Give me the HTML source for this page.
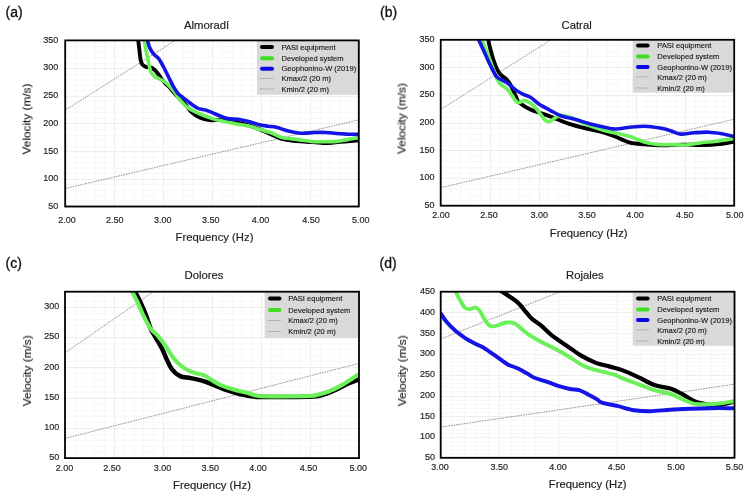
<!DOCTYPE html><html><head><meta charset="utf-8"><style>html,body{margin:0;padding:0;background:#fff;}svg{display:block;} text{will-change:transform;}</style></head><body>
<svg width="747" height="496" viewBox="0 0 747 496" font-family='"Liberation Sans", sans-serif'>
<rect width="747" height="496" fill="#fff"/>
<defs><clipPath id="clipa"><rect x="65.2" y="40.4" width="293.6" height="166.1"/></clipPath></defs>
<g><line x1="65.5" y1="40.4" x2="65.5" y2="206.5" stroke="#ededed" stroke-width="1"/><line x1="75.5" y1="40.4" x2="75.5" y2="206.5" stroke="#f8f8f8" stroke-width="1"/><line x1="85.5" y1="40.4" x2="85.5" y2="206.5" stroke="#f8f8f8" stroke-width="1"/><line x1="95.5" y1="40.4" x2="95.5" y2="206.5" stroke="#f8f8f8" stroke-width="1"/><line x1="104.5" y1="40.4" x2="104.5" y2="206.5" stroke="#f8f8f8" stroke-width="1"/><line x1="114.5" y1="40.4" x2="114.5" y2="206.5" stroke="#ededed" stroke-width="1"/><line x1="124.5" y1="40.4" x2="124.5" y2="206.5" stroke="#f8f8f8" stroke-width="1"/><line x1="134.5" y1="40.4" x2="134.5" y2="206.5" stroke="#f8f8f8" stroke-width="1"/><line x1="143.5" y1="40.4" x2="143.5" y2="206.5" stroke="#f8f8f8" stroke-width="1"/><line x1="153.5" y1="40.4" x2="153.5" y2="206.5" stroke="#f8f8f8" stroke-width="1"/><line x1="163.5" y1="40.4" x2="163.5" y2="206.5" stroke="#ededed" stroke-width="1"/><line x1="173.5" y1="40.4" x2="173.5" y2="206.5" stroke="#f8f8f8" stroke-width="1"/><line x1="183.5" y1="40.4" x2="183.5" y2="206.5" stroke="#f8f8f8" stroke-width="1"/><line x1="192.5" y1="40.4" x2="192.5" y2="206.5" stroke="#f8f8f8" stroke-width="1"/><line x1="202.5" y1="40.4" x2="202.5" y2="206.5" stroke="#f8f8f8" stroke-width="1"/><line x1="212.5" y1="40.4" x2="212.5" y2="206.5" stroke="#ededed" stroke-width="1"/><line x1="222.5" y1="40.4" x2="222.5" y2="206.5" stroke="#f8f8f8" stroke-width="1"/><line x1="232.5" y1="40.4" x2="232.5" y2="206.5" stroke="#f8f8f8" stroke-width="1"/><line x1="241.5" y1="40.4" x2="241.5" y2="206.5" stroke="#f8f8f8" stroke-width="1"/><line x1="251.5" y1="40.4" x2="251.5" y2="206.5" stroke="#f8f8f8" stroke-width="1"/><line x1="261.5" y1="40.4" x2="261.5" y2="206.5" stroke="#ededed" stroke-width="1"/><line x1="271.5" y1="40.4" x2="271.5" y2="206.5" stroke="#f8f8f8" stroke-width="1"/><line x1="281.5" y1="40.4" x2="281.5" y2="206.5" stroke="#f8f8f8" stroke-width="1"/><line x1="290.5" y1="40.4" x2="290.5" y2="206.5" stroke="#f8f8f8" stroke-width="1"/><line x1="300.5" y1="40.4" x2="300.5" y2="206.5" stroke="#f8f8f8" stroke-width="1"/><line x1="310.5" y1="40.4" x2="310.5" y2="206.5" stroke="#ededed" stroke-width="1"/><line x1="320.5" y1="40.4" x2="320.5" y2="206.5" stroke="#f8f8f8" stroke-width="1"/><line x1="329.5" y1="40.4" x2="329.5" y2="206.5" stroke="#f8f8f8" stroke-width="1"/><line x1="339.5" y1="40.4" x2="339.5" y2="206.5" stroke="#f8f8f8" stroke-width="1"/><line x1="349.5" y1="40.4" x2="349.5" y2="206.5" stroke="#f8f8f8" stroke-width="1"/><line x1="359.5" y1="40.4" x2="359.5" y2="206.5" stroke="#ededed" stroke-width="1"/><line x1="65.2" y1="207.5" x2="358.8" y2="207.5" stroke="#ededed" stroke-width="1"/><line x1="65.2" y1="201.5" x2="358.8" y2="201.5" stroke="#f8f8f8" stroke-width="1"/><line x1="65.2" y1="195.5" x2="358.8" y2="195.5" stroke="#f8f8f8" stroke-width="1"/><line x1="65.2" y1="190.5" x2="358.8" y2="190.5" stroke="#f8f8f8" stroke-width="1"/><line x1="65.2" y1="184.5" x2="358.8" y2="184.5" stroke="#f8f8f8" stroke-width="1"/><line x1="65.2" y1="179.5" x2="358.8" y2="179.5" stroke="#ededed" stroke-width="1"/><line x1="65.2" y1="173.5" x2="358.8" y2="173.5" stroke="#f8f8f8" stroke-width="1"/><line x1="65.2" y1="168.5" x2="358.8" y2="168.5" stroke="#f8f8f8" stroke-width="1"/><line x1="65.2" y1="162.5" x2="358.8" y2="162.5" stroke="#f8f8f8" stroke-width="1"/><line x1="65.2" y1="157.5" x2="358.8" y2="157.5" stroke="#f8f8f8" stroke-width="1"/><line x1="65.2" y1="151.5" x2="358.8" y2="151.5" stroke="#ededed" stroke-width="1"/><line x1="65.2" y1="146.5" x2="358.8" y2="146.5" stroke="#f8f8f8" stroke-width="1"/><line x1="65.2" y1="140.5" x2="358.8" y2="140.5" stroke="#f8f8f8" stroke-width="1"/><line x1="65.2" y1="135.5" x2="358.8" y2="135.5" stroke="#f8f8f8" stroke-width="1"/><line x1="65.2" y1="129.5" x2="358.8" y2="129.5" stroke="#f8f8f8" stroke-width="1"/><line x1="65.2" y1="123.5" x2="358.8" y2="123.5" stroke="#ededed" stroke-width="1"/><line x1="65.2" y1="118.5" x2="358.8" y2="118.5" stroke="#f8f8f8" stroke-width="1"/><line x1="65.2" y1="112.5" x2="358.8" y2="112.5" stroke="#f8f8f8" stroke-width="1"/><line x1="65.2" y1="107.5" x2="358.8" y2="107.5" stroke="#f8f8f8" stroke-width="1"/><line x1="65.2" y1="101.5" x2="358.8" y2="101.5" stroke="#f8f8f8" stroke-width="1"/><line x1="65.2" y1="96.5" x2="358.8" y2="96.5" stroke="#ededed" stroke-width="1"/><line x1="65.2" y1="90.5" x2="358.8" y2="90.5" stroke="#f8f8f8" stroke-width="1"/><line x1="65.2" y1="85.5" x2="358.8" y2="85.5" stroke="#f8f8f8" stroke-width="1"/><line x1="65.2" y1="79.5" x2="358.8" y2="79.5" stroke="#f8f8f8" stroke-width="1"/><line x1="65.2" y1="74.5" x2="358.8" y2="74.5" stroke="#f8f8f8" stroke-width="1"/><line x1="65.2" y1="68.5" x2="358.8" y2="68.5" stroke="#ededed" stroke-width="1"/><line x1="65.2" y1="63.5" x2="358.8" y2="63.5" stroke="#f8f8f8" stroke-width="1"/><line x1="65.2" y1="57.5" x2="358.8" y2="57.5" stroke="#f8f8f8" stroke-width="1"/><line x1="65.2" y1="51.5" x2="358.8" y2="51.5" stroke="#f8f8f8" stroke-width="1"/><line x1="65.2" y1="46.5" x2="358.8" y2="46.5" stroke="#f8f8f8" stroke-width="1"/><line x1="65.2" y1="40.5" x2="358.8" y2="40.5" stroke="#ededed" stroke-width="1"/></g>
<rect x="257.0" y="41.0" width="101.0" height="53.8" fill="#d9d9d9"/>
<g clip-path="url(#clipa)">
<line x1="65.2" y1="110.2" x2="358.8" y2="-75.9" stroke="#777" stroke-width="0.8" stroke-dasharray="1.6,1.0"/>
<line x1="65.2" y1="188.5" x2="358.8" y2="119.9" stroke="#777" stroke-width="0.8" stroke-dasharray="1.6,1.0"/>
<path d="M137.9,38.0 C138.2,40.0 139.0,46.5 139.4,50.1 C139.8,53.7 140.1,57.4 140.6,59.8 C141.1,62.2 141.5,63.4 142.4,64.6 C143.3,65.8 144.7,66.4 146.0,66.9 C147.3,67.4 149.1,67.2 150.3,67.5 C151.5,67.8 152.1,68.0 153.0,68.6 C153.9,69.2 155.0,70.1 156.0,71.2 C157.0,72.3 158.0,73.8 159.0,75.2 C160.0,76.6 160.9,78.2 162.0,79.6 C163.1,81.0 164.2,82.3 165.5,83.6 C166.8,84.9 167.8,85.4 169.5,87.3 C171.2,89.2 173.4,92.2 176.0,95.0 C178.6,97.8 182.6,101.4 185.1,104.2 C187.6,107.0 188.7,109.5 191.2,111.8 C193.7,114.1 197.3,116.4 200.3,117.8 C203.3,119.2 205.8,119.7 209.3,120.1 C212.8,120.5 217.4,119.8 221.4,120.1 C225.4,120.3 228.9,120.7 233.5,121.6 C238.1,122.5 244.3,124.1 248.7,125.4 C253.1,126.7 256.3,127.9 260.0,129.4 C263.7,130.9 267.2,132.6 270.9,134.2 C274.5,135.8 278.2,137.9 281.9,139.0 C285.5,140.1 288.7,140.2 292.8,140.7 C296.9,141.1 301.4,141.3 306.4,141.7 C311.4,142.1 318.2,142.8 322.8,143.0 C327.4,143.2 329.7,142.9 333.8,142.6 C337.9,142.3 343.3,141.7 347.4,141.3 C351.5,140.9 356.6,140.5 358.4,140.3" fill="none" stroke="#000000" stroke-width="3.90" stroke-linecap="round" stroke-linejoin="round"/>
<path d="M144.0,38.0 C144.3,40.0 145.2,46.1 146.0,50.1 C146.8,54.1 147.7,58.6 148.5,62.2 C149.3,65.8 149.8,69.5 150.9,71.9 C152.0,74.3 153.6,75.5 155.1,76.7 C156.6,77.9 158.2,78.2 160.0,79.2 C161.8,80.2 164.2,81.4 166.0,82.8 C167.8,84.2 169.2,85.8 170.8,87.6 C172.4,89.4 174.3,91.8 175.7,93.7 C177.1,95.6 177.1,96.6 179.2,99.0 C181.3,101.4 184.7,105.5 188.2,108.0 C191.7,110.5 196.3,112.2 200.3,114.0 C204.3,115.8 208.4,117.3 212.4,118.6 C216.4,119.9 220.5,120.7 224.5,121.6 C228.5,122.5 232.6,123.2 236.6,123.9 C240.6,124.7 244.7,125.1 248.7,126.1 C252.7,127.0 256.8,128.5 260.5,129.6 C264.2,130.7 267.3,131.5 270.9,132.8 C274.5,134.1 278.2,136.6 281.9,137.6 C285.5,138.6 289.2,138.4 292.8,138.9 C296.4,139.4 300.1,139.8 303.7,140.3 C307.3,140.8 311.0,141.5 314.6,141.7 C318.2,141.9 322.0,141.8 325.6,141.7 C329.2,141.6 332.9,141.8 336.5,141.4 C340.1,141.1 343.8,140.2 347.4,139.6 C351.0,139.0 356.6,137.9 358.4,137.6" fill="none" stroke="#6cf05a" stroke-width="3.60" stroke-linecap="round" stroke-linejoin="round"/>
<path d="M146.9,38.0 C147.4,39.6 148.5,45.0 149.7,47.7 C150.9,50.4 152.4,52.5 153.9,54.3 C155.4,56.1 157.1,56.5 158.7,58.6 C160.3,60.7 162.0,64.0 163.6,67.0 C165.2,70.0 166.8,73.5 168.4,76.7 C170.0,79.9 171.7,83.6 173.3,86.4 C174.9,89.2 176.5,91.8 178.1,93.7 C179.7,95.6 181.6,96.5 183.0,97.6 C184.4,98.7 184.2,98.7 186.6,100.4 C189.0,102.1 193.9,106.3 197.2,108.0 C200.5,109.7 203.3,109.3 206.3,110.3 C209.3,111.3 211.9,112.6 215.4,114.0 C218.9,115.4 223.7,117.7 227.5,118.6 C231.3,119.5 234.6,118.8 238.1,119.3 C241.6,119.8 245.0,120.6 248.7,121.6 C252.4,122.5 257.2,124.2 260.5,125.0 C263.8,125.8 265.6,125.8 268.2,126.2 C270.8,126.6 273.2,126.5 276.4,127.3 C279.6,128.0 283.2,129.7 287.3,130.7 C291.4,131.7 296.4,132.9 301.0,133.2 C305.6,133.5 310.5,132.6 314.6,132.5 C318.7,132.4 322.0,132.3 325.6,132.5 C329.2,132.7 332.9,133.2 336.5,133.5 C340.1,133.8 343.8,134.0 347.4,134.2 C351.0,134.3 356.6,134.4 358.4,134.4" fill="none" stroke="#1414e6" stroke-width="3.60" stroke-linecap="round" stroke-linejoin="round"/>
</g>
<line x1="262.0" y1="47.0" x2="272.0" y2="47.0" stroke="#000000" stroke-width="4" stroke-linecap="round"/>
<text transform="translate(281.50,49.72) scale(1.000,1)" font-size="7.55" fill="#141414" stroke="#141414" stroke-width="0.12">PASI equipment</text>
<line x1="262.0" y1="58.2" x2="272.0" y2="58.2" stroke="#3ee01e" stroke-width="4" stroke-linecap="round"/>
<text transform="translate(281.50,60.92) scale(1.000,1)" font-size="7.55" fill="#141414" stroke="#141414" stroke-width="0.12">Developed system</text>
<line x1="262.0" y1="68.7" x2="272.0" y2="68.7" stroke="#0a0ae6" stroke-width="4" stroke-linecap="round"/>
<text transform="translate(281.50,71.42) scale(1.000,1)" font-size="7.55" fill="#141414" stroke="#141414" stroke-width="0.12">Geophonino-W (2019)</text>
<line x1="260.0" y1="78.5" x2="274.0" y2="78.5" stroke="#8a8a8a" stroke-width="0.8" stroke-dasharray="1.3,0.9"/>
<text transform="translate(281.50,81.22) scale(1.000,1)" font-size="7.55" fill="#141414" stroke="#141414" stroke-width="0.12">Kmax/2 (20 m)</text>
<line x1="260.0" y1="89.0" x2="274.0" y2="89.0" stroke="#8a8a8a" stroke-width="0.8" stroke-dasharray="1.3,0.9"/>
<text transform="translate(281.50,91.72) scale(1.000,1)" font-size="7.55" fill="#141414" stroke="#141414" stroke-width="0.12">Kmin/2 (20 m)</text>
<rect x="65.2" y="40.4" width="293.6" height="166.1" fill="none" stroke="#000" stroke-width="1.8"/>
<text transform="translate(58.30,208.86) scale(0.910,1)" font-size="9.90" fill="#262626" text-anchor="end" stroke="#262626" stroke-width="0.20">50</text>
<text transform="translate(58.30,181.18) scale(0.910,1)" font-size="9.90" fill="#262626" text-anchor="end" stroke="#262626" stroke-width="0.20">100</text>
<text transform="translate(58.30,153.50) scale(0.910,1)" font-size="9.90" fill="#262626" text-anchor="end" stroke="#262626" stroke-width="0.20">150</text>
<text transform="translate(58.30,125.81) scale(0.910,1)" font-size="9.90" fill="#262626" text-anchor="end" stroke="#262626" stroke-width="0.20">200</text>
<text transform="translate(58.30,98.13) scale(0.910,1)" font-size="9.90" fill="#262626" text-anchor="end" stroke="#262626" stroke-width="0.20">250</text>
<text transform="translate(58.30,70.45) scale(0.910,1)" font-size="9.90" fill="#262626" text-anchor="end" stroke="#262626" stroke-width="0.20">300</text>
<text transform="translate(58.30,42.76) scale(0.910,1)" font-size="9.90" fill="#262626" text-anchor="end" stroke="#262626" stroke-width="0.20">350</text>
<text transform="translate(67.00,222.76) scale(0.910,1)" font-size="9.90" fill="#262626" text-anchor="middle" stroke="#262626" stroke-width="0.20">2.00</text>
<text transform="translate(114.80,222.76) scale(0.910,1)" font-size="9.90" fill="#262626" text-anchor="middle" stroke="#262626" stroke-width="0.20">2.50</text>
<text transform="translate(162.70,222.76) scale(0.910,1)" font-size="9.90" fill="#262626" text-anchor="middle" stroke="#262626" stroke-width="0.20">3.00</text>
<text transform="translate(210.80,222.76) scale(0.910,1)" font-size="9.90" fill="#262626" text-anchor="middle" stroke="#262626" stroke-width="0.20">3.50</text>
<text transform="translate(260.50,222.76) scale(0.910,1)" font-size="9.90" fill="#262626" text-anchor="middle" stroke="#262626" stroke-width="0.20">4.00</text>
<text transform="translate(311.00,222.76) scale(0.910,1)" font-size="9.90" fill="#262626" text-anchor="middle" stroke="#262626" stroke-width="0.20">4.50</text>
<text transform="translate(360.70,222.76) scale(0.910,1)" font-size="9.90" fill="#262626" text-anchor="middle" stroke="#262626" stroke-width="0.20">5.00</text>
<text transform="translate(5.50,16.60) scale(1.000,1)" font-size="14.00" fill="#111" stroke="#111" stroke-width="0.30">(a)</text>
<text transform="translate(206.60,28.50) scale(1.000,1)" font-size="11.30" fill="#222" text-anchor="middle" stroke="#222" stroke-width="0.18">Almoradí</text>
<text transform="translate(214.50,240.70) scale(1.000,1)" font-size="11.30" fill="#222" text-anchor="middle" stroke="#222" stroke-width="0.18">Frequency (Hz)</text>
<text transform="translate(30.50,119.00) rotate(-90) scale(1.000,1)" font-size="11.80" fill="#222" text-anchor="middle" stroke="#222" stroke-width="0.18">Velocity (m/s)</text>
<defs><clipPath id="clipb"><rect x="440.7" y="39.8" width="293.5" height="165.9"/></clipPath></defs>
<g><line x1="441.5" y1="39.8" x2="441.5" y2="205.7" stroke="#ededed" stroke-width="1"/><line x1="450.5" y1="39.8" x2="450.5" y2="205.7" stroke="#f8f8f8" stroke-width="1"/><line x1="460.5" y1="39.8" x2="460.5" y2="205.7" stroke="#f8f8f8" stroke-width="1"/><line x1="470.5" y1="39.8" x2="470.5" y2="205.7" stroke="#f8f8f8" stroke-width="1"/><line x1="480.5" y1="39.8" x2="480.5" y2="205.7" stroke="#f8f8f8" stroke-width="1"/><line x1="490.5" y1="39.8" x2="490.5" y2="205.7" stroke="#ededed" stroke-width="1"/><line x1="499.5" y1="39.8" x2="499.5" y2="205.7" stroke="#f8f8f8" stroke-width="1"/><line x1="509.5" y1="39.8" x2="509.5" y2="205.7" stroke="#f8f8f8" stroke-width="1"/><line x1="519.5" y1="39.8" x2="519.5" y2="205.7" stroke="#f8f8f8" stroke-width="1"/><line x1="529.5" y1="39.8" x2="529.5" y2="205.7" stroke="#f8f8f8" stroke-width="1"/><line x1="539.5" y1="39.8" x2="539.5" y2="205.7" stroke="#ededed" stroke-width="1"/><line x1="548.5" y1="39.8" x2="548.5" y2="205.7" stroke="#f8f8f8" stroke-width="1"/><line x1="558.5" y1="39.8" x2="558.5" y2="205.7" stroke="#f8f8f8" stroke-width="1"/><line x1="568.5" y1="39.8" x2="568.5" y2="205.7" stroke="#f8f8f8" stroke-width="1"/><line x1="578.5" y1="39.8" x2="578.5" y2="205.7" stroke="#f8f8f8" stroke-width="1"/><line x1="587.5" y1="39.8" x2="587.5" y2="205.7" stroke="#ededed" stroke-width="1"/><line x1="597.5" y1="39.8" x2="597.5" y2="205.7" stroke="#f8f8f8" stroke-width="1"/><line x1="607.5" y1="39.8" x2="607.5" y2="205.7" stroke="#f8f8f8" stroke-width="1"/><line x1="617.5" y1="39.8" x2="617.5" y2="205.7" stroke="#f8f8f8" stroke-width="1"/><line x1="627.5" y1="39.8" x2="627.5" y2="205.7" stroke="#f8f8f8" stroke-width="1"/><line x1="636.5" y1="39.8" x2="636.5" y2="205.7" stroke="#ededed" stroke-width="1"/><line x1="646.5" y1="39.8" x2="646.5" y2="205.7" stroke="#f8f8f8" stroke-width="1"/><line x1="656.5" y1="39.8" x2="656.5" y2="205.7" stroke="#f8f8f8" stroke-width="1"/><line x1="666.5" y1="39.8" x2="666.5" y2="205.7" stroke="#f8f8f8" stroke-width="1"/><line x1="676.5" y1="39.8" x2="676.5" y2="205.7" stroke="#f8f8f8" stroke-width="1"/><line x1="685.5" y1="39.8" x2="685.5" y2="205.7" stroke="#ededed" stroke-width="1"/><line x1="695.5" y1="39.8" x2="695.5" y2="205.7" stroke="#f8f8f8" stroke-width="1"/><line x1="705.5" y1="39.8" x2="705.5" y2="205.7" stroke="#f8f8f8" stroke-width="1"/><line x1="715.5" y1="39.8" x2="715.5" y2="205.7" stroke="#f8f8f8" stroke-width="1"/><line x1="724.5" y1="39.8" x2="724.5" y2="205.7" stroke="#f8f8f8" stroke-width="1"/><line x1="734.5" y1="39.8" x2="734.5" y2="205.7" stroke="#ededed" stroke-width="1"/><line x1="440.7" y1="206.5" x2="734.2" y2="206.5" stroke="#ededed" stroke-width="1"/><line x1="440.7" y1="200.5" x2="734.2" y2="200.5" stroke="#f8f8f8" stroke-width="1"/><line x1="440.7" y1="195.5" x2="734.2" y2="195.5" stroke="#f8f8f8" stroke-width="1"/><line x1="440.7" y1="189.5" x2="734.2" y2="189.5" stroke="#f8f8f8" stroke-width="1"/><line x1="440.7" y1="184.5" x2="734.2" y2="184.5" stroke="#f8f8f8" stroke-width="1"/><line x1="440.7" y1="178.5" x2="734.2" y2="178.5" stroke="#ededed" stroke-width="1"/><line x1="440.7" y1="173.5" x2="734.2" y2="173.5" stroke="#f8f8f8" stroke-width="1"/><line x1="440.7" y1="167.5" x2="734.2" y2="167.5" stroke="#f8f8f8" stroke-width="1"/><line x1="440.7" y1="161.5" x2="734.2" y2="161.5" stroke="#f8f8f8" stroke-width="1"/><line x1="440.7" y1="156.5" x2="734.2" y2="156.5" stroke="#f8f8f8" stroke-width="1"/><line x1="440.7" y1="150.5" x2="734.2" y2="150.5" stroke="#ededed" stroke-width="1"/><line x1="440.7" y1="145.5" x2="734.2" y2="145.5" stroke="#f8f8f8" stroke-width="1"/><line x1="440.7" y1="139.5" x2="734.2" y2="139.5" stroke="#f8f8f8" stroke-width="1"/><line x1="440.7" y1="134.5" x2="734.2" y2="134.5" stroke="#f8f8f8" stroke-width="1"/><line x1="440.7" y1="128.5" x2="734.2" y2="128.5" stroke="#f8f8f8" stroke-width="1"/><line x1="440.7" y1="123.5" x2="734.2" y2="123.5" stroke="#ededed" stroke-width="1"/><line x1="440.7" y1="117.5" x2="734.2" y2="117.5" stroke="#f8f8f8" stroke-width="1"/><line x1="440.7" y1="112.5" x2="734.2" y2="112.5" stroke="#f8f8f8" stroke-width="1"/><line x1="440.7" y1="106.5" x2="734.2" y2="106.5" stroke="#f8f8f8" stroke-width="1"/><line x1="440.7" y1="101.5" x2="734.2" y2="101.5" stroke="#f8f8f8" stroke-width="1"/><line x1="440.7" y1="95.5" x2="734.2" y2="95.5" stroke="#ededed" stroke-width="1"/><line x1="440.7" y1="90.5" x2="734.2" y2="90.5" stroke="#f8f8f8" stroke-width="1"/><line x1="440.7" y1="84.5" x2="734.2" y2="84.5" stroke="#f8f8f8" stroke-width="1"/><line x1="440.7" y1="79.5" x2="734.2" y2="79.5" stroke="#f8f8f8" stroke-width="1"/><line x1="440.7" y1="73.5" x2="734.2" y2="73.5" stroke="#f8f8f8" stroke-width="1"/><line x1="440.7" y1="67.5" x2="734.2" y2="67.5" stroke="#ededed" stroke-width="1"/><line x1="440.7" y1="62.5" x2="734.2" y2="62.5" stroke="#f8f8f8" stroke-width="1"/><line x1="440.7" y1="56.5" x2="734.2" y2="56.5" stroke="#f8f8f8" stroke-width="1"/><line x1="440.7" y1="51.5" x2="734.2" y2="51.5" stroke="#f8f8f8" stroke-width="1"/><line x1="440.7" y1="45.5" x2="734.2" y2="45.5" stroke="#f8f8f8" stroke-width="1"/><line x1="440.7" y1="40.5" x2="734.2" y2="40.5" stroke="#ededed" stroke-width="1"/></g>
<rect x="632.7" y="40.5" width="101.0" height="52.2" fill="#d9d9d9"/>
<g clip-path="url(#clipb)">
<line x1="440.7" y1="109.5" x2="734.2" y2="-76.3" stroke="#777" stroke-width="0.8" stroke-dasharray="1.6,1.0"/>
<line x1="440.7" y1="187.7" x2="734.2" y2="119.2" stroke="#777" stroke-width="0.8" stroke-dasharray="1.6,1.0"/>
<path d="M487.9,38.0 C488.2,39.6 489.1,44.3 490.0,47.7 C490.9,51.1 491.9,55.2 493.0,58.6 C494.1,62.0 495.4,65.7 496.6,68.3 C497.8,70.9 498.7,72.5 500.3,74.3 C501.9,76.1 504.7,77.6 506.3,79.2 C507.9,80.8 508.8,82.0 510.0,84.0 C511.2,86.0 512.5,89.0 513.6,91.3 C514.7,93.6 515.7,96.1 516.6,98.0 C517.5,99.9 516.8,100.7 519.1,102.6 C521.4,104.5 526.4,107.7 530.4,109.6 C534.4,111.5 539.1,112.5 543.1,113.9 C547.1,115.3 550.2,116.5 554.4,118.1 C558.6,119.7 563.6,122.0 568.5,123.7 C573.4,125.4 579.3,126.8 584.0,128.0 C588.7,129.2 593.2,130.0 596.7,130.8 C600.2,131.6 602.0,132.0 605.0,132.9 C608.0,133.8 610.8,134.9 615.0,136.5 C619.2,138.1 625.0,141.4 630.0,142.7 C635.0,144.0 640.0,143.9 645.0,144.4 C650.0,144.9 653.8,145.4 660.0,145.4 C666.2,145.4 675.6,144.7 682.5,144.6 C689.4,144.5 695.0,145.1 701.2,145.0 C707.5,144.9 714.5,144.6 720.0,144.0 C725.5,143.4 731.7,142.0 734.0,141.6" fill="none" stroke="#000000" stroke-width="3.90" stroke-linecap="round" stroke-linejoin="round"/>
<path d="M480.9,38.0 C481.9,40.4 485.0,47.5 487.0,52.5 C489.0,57.5 491.4,64.0 493.0,68.3 C494.6,72.5 495.4,75.4 496.6,78.0 C497.8,80.6 498.7,82.3 500.3,84.0 C501.9,85.7 504.2,86.3 506.0,88.0 C507.8,89.7 509.1,91.6 511.0,94.0 C513.0,96.4 515.4,101.5 517.7,102.6 C520.0,103.7 522.1,100.0 524.7,100.5 C527.3,101.0 530.6,103.2 533.2,105.4 C535.8,107.6 538.5,111.6 540.3,113.9 C542.1,116.2 543.0,118.0 544.2,119.3 C545.4,120.6 546.5,121.3 547.6,121.6 C548.7,121.8 549.8,121.4 551.0,120.8 C552.2,120.2 553.1,119.1 554.8,118.2 C556.5,117.3 558.4,115.3 561.4,115.3 C564.4,115.3 568.9,116.7 572.7,118.1 C576.5,119.5 580.0,122.0 584.0,123.7 C588.0,125.4 593.2,126.8 596.7,128.0 C600.2,129.2 602.0,130.0 605.0,130.8 C608.0,131.6 610.8,131.9 615.0,132.8 C619.2,133.8 625.0,134.9 630.0,136.5 C635.0,138.1 640.0,140.8 645.0,142.2 C650.0,143.5 655.0,144.2 660.0,144.6 C665.0,145.0 670.6,144.5 675.0,144.6 C679.4,144.7 681.8,145.3 686.2,145.0 C690.6,144.7 696.2,143.3 701.2,142.7 C706.2,142.1 710.7,141.9 716.2,141.2 C721.7,140.5 731.0,138.9 734.0,138.4" fill="none" stroke="#6cf05a" stroke-width="3.60" stroke-linecap="round" stroke-linejoin="round"/>
<path d="M477.9,38.0 C479.0,40.4 482.4,47.9 484.5,52.5 C486.6,57.1 488.6,61.8 490.6,65.8 C492.6,69.8 494.6,74.3 496.6,76.7 C498.6,79.1 500.7,79.2 502.7,80.4 C504.7,81.6 506.5,82.4 508.7,84.0 C510.9,85.6 513.6,88.4 516.0,90.1 C518.4,91.8 520.9,93.1 523.3,94.3 C525.7,95.5 527.9,95.7 530.5,97.3 C533.1,98.9 535.6,101.8 538.9,104.0 C542.2,106.2 546.4,108.3 550.1,110.3 C553.9,112.3 557.2,114.5 561.4,116.0 C565.6,117.5 570.8,118.2 575.5,119.5 C580.2,120.8 585.5,122.6 589.6,123.7 C593.7,124.8 595.8,125.3 600.0,126.2 C604.2,127.1 610.0,128.8 615.0,129.0 C620.0,129.2 625.0,127.7 630.0,127.2 C635.0,126.7 640.0,126.1 645.0,126.2 C650.0,126.3 655.6,127.3 660.0,128.1 C664.4,128.9 667.8,129.9 671.2,130.9 C674.6,131.9 676.9,133.8 680.6,134.1 C684.4,134.4 689.0,133.1 693.7,132.8 C698.4,132.5 704.0,132.0 708.7,132.2 C713.4,132.3 717.6,133.0 721.8,133.7 C726.0,134.4 732.0,136.0 734.0,136.5" fill="none" stroke="#1414e6" stroke-width="3.60" stroke-linecap="round" stroke-linejoin="round"/>
</g>
<line x1="638.0" y1="45.5" x2="647.6" y2="45.5" stroke="#000000" stroke-width="4" stroke-linecap="round"/>
<text transform="translate(657.30,48.22) scale(1.000,1)" font-size="7.55" fill="#141414" stroke="#141414" stroke-width="0.12">PASI equipment</text>
<line x1="638.0" y1="56.5" x2="647.6" y2="56.5" stroke="#3ee01e" stroke-width="4" stroke-linecap="round"/>
<text transform="translate(657.30,59.22) scale(1.000,1)" font-size="7.55" fill="#141414" stroke="#141414" stroke-width="0.12">Developed system</text>
<line x1="638.0" y1="67.0" x2="647.6" y2="67.0" stroke="#0a0ae6" stroke-width="4" stroke-linecap="round"/>
<text transform="translate(657.30,69.72) scale(1.000,1)" font-size="7.55" fill="#141414" stroke="#141414" stroke-width="0.12">Geophonino-W (2019)</text>
<line x1="636.0" y1="76.8" x2="649.6" y2="76.8" stroke="#8a8a8a" stroke-width="0.8" stroke-dasharray="1.3,0.9"/>
<text transform="translate(657.30,79.52) scale(1.000,1)" font-size="7.55" fill="#141414" stroke="#141414" stroke-width="0.12">Kmax/2 (20 m)</text>
<line x1="636.0" y1="88.0" x2="649.6" y2="88.0" stroke="#8a8a8a" stroke-width="0.8" stroke-dasharray="1.3,0.9"/>
<text transform="translate(657.30,90.72) scale(1.000,1)" font-size="7.55" fill="#141414" stroke="#141414" stroke-width="0.12">Kmin/2 (20 m)</text>
<rect x="440.7" y="39.8" width="293.5" height="165.9" fill="none" stroke="#000" stroke-width="1.8"/>
<text transform="translate(434.60,208.06) scale(0.910,1)" font-size="9.90" fill="#262626" text-anchor="end" stroke="#262626" stroke-width="0.20">50</text>
<text transform="translate(434.60,180.41) scale(0.910,1)" font-size="9.90" fill="#262626" text-anchor="end" stroke="#262626" stroke-width="0.20">100</text>
<text transform="translate(434.60,152.76) scale(0.910,1)" font-size="9.90" fill="#262626" text-anchor="end" stroke="#262626" stroke-width="0.20">150</text>
<text transform="translate(434.60,125.11) scale(0.910,1)" font-size="9.90" fill="#262626" text-anchor="end" stroke="#262626" stroke-width="0.20">200</text>
<text transform="translate(434.60,97.46) scale(0.910,1)" font-size="9.90" fill="#262626" text-anchor="end" stroke="#262626" stroke-width="0.20">250</text>
<text transform="translate(434.60,69.81) scale(0.910,1)" font-size="9.90" fill="#262626" text-anchor="end" stroke="#262626" stroke-width="0.20">300</text>
<text transform="translate(434.60,42.16) scale(0.910,1)" font-size="9.90" fill="#262626" text-anchor="end" stroke="#262626" stroke-width="0.20">350</text>
<text transform="translate(441.10,218.36) scale(0.910,1)" font-size="9.90" fill="#262626" text-anchor="middle" stroke="#262626" stroke-width="0.20">2.00</text>
<text transform="translate(489.00,218.36) scale(0.910,1)" font-size="9.90" fill="#262626" text-anchor="middle" stroke="#262626" stroke-width="0.20">2.50</text>
<text transform="translate(539.20,218.36) scale(0.910,1)" font-size="9.90" fill="#262626" text-anchor="middle" stroke="#262626" stroke-width="0.20">3.00</text>
<text transform="translate(587.00,218.36) scale(0.910,1)" font-size="9.90" fill="#262626" text-anchor="middle" stroke="#262626" stroke-width="0.20">3.50</text>
<text transform="translate(635.00,218.36) scale(0.910,1)" font-size="9.90" fill="#262626" text-anchor="middle" stroke="#262626" stroke-width="0.20">4.00</text>
<text transform="translate(684.70,218.36) scale(0.910,1)" font-size="9.90" fill="#262626" text-anchor="middle" stroke="#262626" stroke-width="0.20">4.50</text>
<text transform="translate(734.80,218.36) scale(0.910,1)" font-size="9.90" fill="#262626" text-anchor="middle" stroke="#262626" stroke-width="0.20">5.00</text>
<text transform="translate(380.00,16.60) scale(1.000,1)" font-size="14.00" fill="#111" stroke="#111" stroke-width="0.30">(b)</text>
<text transform="translate(576.60,28.50) scale(1.000,1)" font-size="11.30" fill="#222" text-anchor="middle" stroke="#222" stroke-width="0.18">Catral</text>
<text transform="translate(588.70,236.70) scale(1.000,1)" font-size="11.30" fill="#222" text-anchor="middle" stroke="#222" stroke-width="0.18">Frequency (Hz)</text>
<text transform="translate(405.50,118.50) rotate(-90) scale(1.000,1)" font-size="11.80" fill="#222" text-anchor="middle" stroke="#222" stroke-width="0.18">Velocity (m/s)</text>
<defs><clipPath id="clipc"><rect x="65.0" y="291.7" width="294.0" height="166.4"/></clipPath></defs>
<g><line x1="65.5" y1="291.7" x2="65.5" y2="458.1" stroke="#ededed" stroke-width="1"/><line x1="75.5" y1="291.7" x2="75.5" y2="458.1" stroke="#f8f8f8" stroke-width="1"/><line x1="85.5" y1="291.7" x2="85.5" y2="458.1" stroke="#f8f8f8" stroke-width="1"/><line x1="94.5" y1="291.7" x2="94.5" y2="458.1" stroke="#f8f8f8" stroke-width="1"/><line x1="104.5" y1="291.7" x2="104.5" y2="458.1" stroke="#f8f8f8" stroke-width="1"/><line x1="114.5" y1="291.7" x2="114.5" y2="458.1" stroke="#ededed" stroke-width="1"/><line x1="124.5" y1="291.7" x2="124.5" y2="458.1" stroke="#f8f8f8" stroke-width="1"/><line x1="134.5" y1="291.7" x2="134.5" y2="458.1" stroke="#f8f8f8" stroke-width="1"/><line x1="143.5" y1="291.7" x2="143.5" y2="458.1" stroke="#f8f8f8" stroke-width="1"/><line x1="153.5" y1="291.7" x2="153.5" y2="458.1" stroke="#f8f8f8" stroke-width="1"/><line x1="163.5" y1="291.7" x2="163.5" y2="458.1" stroke="#ededed" stroke-width="1"/><line x1="173.5" y1="291.7" x2="173.5" y2="458.1" stroke="#f8f8f8" stroke-width="1"/><line x1="183.5" y1="291.7" x2="183.5" y2="458.1" stroke="#f8f8f8" stroke-width="1"/><line x1="192.5" y1="291.7" x2="192.5" y2="458.1" stroke="#f8f8f8" stroke-width="1"/><line x1="202.5" y1="291.7" x2="202.5" y2="458.1" stroke="#f8f8f8" stroke-width="1"/><line x1="212.5" y1="291.7" x2="212.5" y2="458.1" stroke="#ededed" stroke-width="1"/><line x1="222.5" y1="291.7" x2="222.5" y2="458.1" stroke="#f8f8f8" stroke-width="1"/><line x1="232.5" y1="291.7" x2="232.5" y2="458.1" stroke="#f8f8f8" stroke-width="1"/><line x1="241.5" y1="291.7" x2="241.5" y2="458.1" stroke="#f8f8f8" stroke-width="1"/><line x1="251.5" y1="291.7" x2="251.5" y2="458.1" stroke="#f8f8f8" stroke-width="1"/><line x1="261.5" y1="291.7" x2="261.5" y2="458.1" stroke="#ededed" stroke-width="1"/><line x1="271.5" y1="291.7" x2="271.5" y2="458.1" stroke="#f8f8f8" stroke-width="1"/><line x1="281.5" y1="291.7" x2="281.5" y2="458.1" stroke="#f8f8f8" stroke-width="1"/><line x1="290.5" y1="291.7" x2="290.5" y2="458.1" stroke="#f8f8f8" stroke-width="1"/><line x1="300.5" y1="291.7" x2="300.5" y2="458.1" stroke="#f8f8f8" stroke-width="1"/><line x1="310.5" y1="291.7" x2="310.5" y2="458.1" stroke="#ededed" stroke-width="1"/><line x1="320.5" y1="291.7" x2="320.5" y2="458.1" stroke="#f8f8f8" stroke-width="1"/><line x1="330.5" y1="291.7" x2="330.5" y2="458.1" stroke="#f8f8f8" stroke-width="1"/><line x1="339.5" y1="291.7" x2="339.5" y2="458.1" stroke="#f8f8f8" stroke-width="1"/><line x1="349.5" y1="291.7" x2="349.5" y2="458.1" stroke="#f8f8f8" stroke-width="1"/><line x1="359.5" y1="291.7" x2="359.5" y2="458.1" stroke="#ededed" stroke-width="1"/><line x1="65.0" y1="458.5" x2="359.0" y2="458.5" stroke="#ededed" stroke-width="1"/><line x1="65.0" y1="452.5" x2="359.0" y2="452.5" stroke="#f8f8f8" stroke-width="1"/><line x1="65.0" y1="446.5" x2="359.0" y2="446.5" stroke="#f8f8f8" stroke-width="1"/><line x1="65.0" y1="440.5" x2="359.0" y2="440.5" stroke="#f8f8f8" stroke-width="1"/><line x1="65.0" y1="434.5" x2="359.0" y2="434.5" stroke="#f8f8f8" stroke-width="1"/><line x1="65.0" y1="428.5" x2="359.0" y2="428.5" stroke="#ededed" stroke-width="1"/><line x1="65.0" y1="422.5" x2="359.0" y2="422.5" stroke="#f8f8f8" stroke-width="1"/><line x1="65.0" y1="416.5" x2="359.0" y2="416.5" stroke="#f8f8f8" stroke-width="1"/><line x1="65.0" y1="410.5" x2="359.0" y2="410.5" stroke="#f8f8f8" stroke-width="1"/><line x1="65.0" y1="404.5" x2="359.0" y2="404.5" stroke="#f8f8f8" stroke-width="1"/><line x1="65.0" y1="398.5" x2="359.0" y2="398.5" stroke="#ededed" stroke-width="1"/><line x1="65.0" y1="392.5" x2="359.0" y2="392.5" stroke="#f8f8f8" stroke-width="1"/><line x1="65.0" y1="386.5" x2="359.0" y2="386.5" stroke="#f8f8f8" stroke-width="1"/><line x1="65.0" y1="379.5" x2="359.0" y2="379.5" stroke="#f8f8f8" stroke-width="1"/><line x1="65.0" y1="373.5" x2="359.0" y2="373.5" stroke="#f8f8f8" stroke-width="1"/><line x1="65.0" y1="367.5" x2="359.0" y2="367.5" stroke="#ededed" stroke-width="1"/><line x1="65.0" y1="361.5" x2="359.0" y2="361.5" stroke="#f8f8f8" stroke-width="1"/><line x1="65.0" y1="355.5" x2="359.0" y2="355.5" stroke="#f8f8f8" stroke-width="1"/><line x1="65.0" y1="349.5" x2="359.0" y2="349.5" stroke="#f8f8f8" stroke-width="1"/><line x1="65.0" y1="343.5" x2="359.0" y2="343.5" stroke="#f8f8f8" stroke-width="1"/><line x1="65.0" y1="337.5" x2="359.0" y2="337.5" stroke="#ededed" stroke-width="1"/><line x1="65.0" y1="331.5" x2="359.0" y2="331.5" stroke="#f8f8f8" stroke-width="1"/><line x1="65.0" y1="325.5" x2="359.0" y2="325.5" stroke="#f8f8f8" stroke-width="1"/><line x1="65.0" y1="319.5" x2="359.0" y2="319.5" stroke="#f8f8f8" stroke-width="1"/><line x1="65.0" y1="313.5" x2="359.0" y2="313.5" stroke="#f8f8f8" stroke-width="1"/><line x1="65.0" y1="307.5" x2="359.0" y2="307.5" stroke="#ededed" stroke-width="1"/><line x1="65.0" y1="301.5" x2="359.0" y2="301.5" stroke="#f8f8f8" stroke-width="1"/><line x1="65.0" y1="295.5" x2="359.0" y2="295.5" stroke="#f8f8f8" stroke-width="1"/></g>
<rect x="264.6" y="292.0" width="93.4" height="46.2" fill="#d9d9d9"/>
<g clip-path="url(#clipc)">
<line x1="65.0" y1="352.8" x2="359.0" y2="149.6" stroke="#777" stroke-width="0.8" stroke-dasharray="1.6,1.0"/>
<line x1="65.0" y1="438.4" x2="359.0" y2="363.4" stroke="#777" stroke-width="0.8" stroke-dasharray="1.6,1.0"/>
<path d="M134.2,290.0 C135.2,292.1 138.6,298.5 140.5,302.5 C142.4,306.5 143.9,309.8 145.6,314.1 C147.3,318.5 148.8,324.5 150.6,328.6 C152.4,332.7 154.5,335.4 156.4,338.8 C158.3,342.2 160.5,345.6 162.2,349.0 C163.9,352.4 165.1,356.0 166.7,359.4 C168.3,362.8 169.8,366.6 172.0,369.4 C174.2,372.2 177.0,374.7 180.1,376.1 C183.2,377.6 187.0,377.3 190.8,378.1 C194.6,378.9 199.0,379.7 202.8,380.8 C206.6,381.9 209.5,383.2 213.5,384.8 C217.5,386.4 222.4,388.6 226.9,390.2 C231.4,391.8 235.8,393.1 240.3,394.2 C244.8,395.3 247.1,396.1 253.7,396.6 C260.3,397.1 270.1,397.0 280.0,397.0 C289.9,397.0 305.5,397.1 313.0,396.6 C320.5,396.1 321.0,395.4 325.0,394.2 C329.0,393.0 333.0,391.0 337.0,389.2 C341.0,387.4 345.4,384.8 349.0,383.2 C352.6,381.6 357.1,380.1 358.7,379.5" fill="none" stroke="#000000" stroke-width="4.50" stroke-linecap="round" stroke-linejoin="round"/>
<path d="M131.2,290.0 C132.3,292.1 135.6,298.2 137.6,302.5 C139.6,306.8 141.2,311.2 143.4,315.6 C145.6,320.0 148.2,325.2 150.6,328.6 C153.0,332.0 155.2,332.8 157.9,335.9 C160.6,339.0 164.0,343.8 166.6,347.5 C169.2,351.2 170.9,354.9 173.4,358.0 C175.9,361.1 178.3,363.8 181.4,366.1 C184.5,368.5 188.3,370.6 192.1,372.1 C195.9,373.7 201.1,374.2 204.2,375.4 C207.3,376.6 208.2,377.9 210.9,379.5 C213.6,381.1 216.4,383.1 220.2,384.8 C224.0,386.5 229.1,388.2 233.6,389.5 C238.1,390.8 242.8,391.7 247.0,392.8 C251.2,393.9 253.5,395.4 259.0,396.0 C264.5,396.6 271.5,396.3 280.0,396.3 C288.5,396.3 303.8,396.2 310.0,396.0 C316.2,395.8 314.5,395.5 317.5,394.8 C320.5,394.1 324.2,393.2 328.0,391.8 C331.8,390.4 336.0,388.4 340.0,386.2 C344.0,384.0 348.9,380.7 352.0,378.7 C355.1,376.7 357.6,374.9 358.7,374.2" fill="none" stroke="#6cf05a" stroke-width="4.20" stroke-linecap="round" stroke-linejoin="round"/>
</g>
<line x1="270.0" y1="298.4" x2="279.5" y2="298.4" stroke="#000000" stroke-width="4" stroke-linecap="round"/>
<text transform="translate(288.30,301.12) scale(1.000,1)" font-size="7.55" fill="#141414" stroke="#141414" stroke-width="0.12">PASI equipment</text>
<line x1="270.0" y1="309.9" x2="279.5" y2="309.9" stroke="#3ee01e" stroke-width="4" stroke-linecap="round"/>
<text transform="translate(288.30,312.62) scale(1.000,1)" font-size="7.55" fill="#141414" stroke="#141414" stroke-width="0.12">Developed system</text>
<line x1="268.0" y1="320.5" x2="281.5" y2="320.5" stroke="#8a8a8a" stroke-width="0.8" stroke-dasharray="1.3,0.9"/>
<text transform="translate(288.30,323.22) scale(1.000,1)" font-size="7.55" fill="#141414" stroke="#141414" stroke-width="0.12">Kmax/2 (20 m)</text>
<line x1="268.0" y1="331.5" x2="281.5" y2="331.5" stroke="#8a8a8a" stroke-width="0.8" stroke-dasharray="1.3,0.9"/>
<text transform="translate(288.30,334.22) scale(1.000,1)" font-size="7.55" fill="#141414" stroke="#141414" stroke-width="0.12">Kmin/2 (20 m)</text>
<rect x="65.0" y="291.7" width="294.0" height="166.4" fill="none" stroke="#000" stroke-width="1.8"/>
<text transform="translate(59.20,460.46) scale(0.910,1)" font-size="9.90" fill="#262626" text-anchor="end" stroke="#262626" stroke-width="0.20">50</text>
<text transform="translate(59.20,430.21) scale(0.910,1)" font-size="9.90" fill="#262626" text-anchor="end" stroke="#262626" stroke-width="0.20">100</text>
<text transform="translate(59.20,399.96) scale(0.910,1)" font-size="9.90" fill="#262626" text-anchor="end" stroke="#262626" stroke-width="0.20">150</text>
<text transform="translate(59.20,369.71) scale(0.910,1)" font-size="9.90" fill="#262626" text-anchor="end" stroke="#262626" stroke-width="0.20">200</text>
<text transform="translate(59.20,339.46) scale(0.910,1)" font-size="9.90" fill="#262626" text-anchor="end" stroke="#262626" stroke-width="0.20">250</text>
<text transform="translate(59.20,309.21) scale(0.910,1)" font-size="9.90" fill="#262626" text-anchor="end" stroke="#262626" stroke-width="0.20">300</text>
<text transform="translate(64.60,470.56) scale(0.910,1)" font-size="9.90" fill="#262626" text-anchor="middle" stroke="#262626" stroke-width="0.20">2.00</text>
<text transform="translate(112.00,470.56) scale(0.910,1)" font-size="9.90" fill="#262626" text-anchor="middle" stroke="#262626" stroke-width="0.20">2.50</text>
<text transform="translate(162.50,470.56) scale(0.910,1)" font-size="9.90" fill="#262626" text-anchor="middle" stroke="#262626" stroke-width="0.20">3.00</text>
<text transform="translate(210.30,470.56) scale(0.910,1)" font-size="9.90" fill="#262626" text-anchor="middle" stroke="#262626" stroke-width="0.20">3.50</text>
<text transform="translate(258.00,470.56) scale(0.910,1)" font-size="9.90" fill="#262626" text-anchor="middle" stroke="#262626" stroke-width="0.20">4.00</text>
<text transform="translate(308.50,470.56) scale(0.910,1)" font-size="9.90" fill="#262626" text-anchor="middle" stroke="#262626" stroke-width="0.20">4.50</text>
<text transform="translate(358.30,470.56) scale(0.910,1)" font-size="9.90" fill="#262626" text-anchor="middle" stroke="#262626" stroke-width="0.20">5.00</text>
<text transform="translate(5.60,268.30) scale(1.000,1)" font-size="14.00" fill="#111" stroke="#111" stroke-width="0.30">(c)</text>
<text transform="translate(204.00,278.80) scale(1.000,1)" font-size="11.30" fill="#222" text-anchor="middle" stroke="#222" stroke-width="0.18">Dolores</text>
<text transform="translate(212.00,488.70) scale(1.000,1)" font-size="11.30" fill="#222" text-anchor="middle" stroke="#222" stroke-width="0.18">Frequency (Hz)</text>
<text transform="translate(31.00,370.70) rotate(-90) scale(1.000,1)" font-size="11.80" fill="#222" text-anchor="middle" stroke="#222" stroke-width="0.18">Velocity (m/s)</text>
<defs><clipPath id="clipd"><rect x="440.7" y="291.7" width="293.8" height="166.1"/></clipPath></defs>
<g><line x1="441.5" y1="291.7" x2="441.5" y2="457.8" stroke="#ededed" stroke-width="1"/><line x1="452.5" y1="291.7" x2="452.5" y2="457.8" stroke="#f8f8f8" stroke-width="1"/><line x1="464.5" y1="291.7" x2="464.5" y2="457.8" stroke="#f8f8f8" stroke-width="1"/><line x1="476.5" y1="291.7" x2="476.5" y2="457.8" stroke="#f8f8f8" stroke-width="1"/><line x1="488.5" y1="291.7" x2="488.5" y2="457.8" stroke="#f8f8f8" stroke-width="1"/><line x1="499.5" y1="291.7" x2="499.5" y2="457.8" stroke="#ededed" stroke-width="1"/><line x1="511.5" y1="291.7" x2="511.5" y2="457.8" stroke="#f8f8f8" stroke-width="1"/><line x1="523.5" y1="291.7" x2="523.5" y2="457.8" stroke="#f8f8f8" stroke-width="1"/><line x1="535.5" y1="291.7" x2="535.5" y2="457.8" stroke="#f8f8f8" stroke-width="1"/><line x1="546.5" y1="291.7" x2="546.5" y2="457.8" stroke="#f8f8f8" stroke-width="1"/><line x1="558.5" y1="291.7" x2="558.5" y2="457.8" stroke="#ededed" stroke-width="1"/><line x1="570.5" y1="291.7" x2="570.5" y2="457.8" stroke="#f8f8f8" stroke-width="1"/><line x1="582.5" y1="291.7" x2="582.5" y2="457.8" stroke="#f8f8f8" stroke-width="1"/><line x1="593.5" y1="291.7" x2="593.5" y2="457.8" stroke="#f8f8f8" stroke-width="1"/><line x1="605.5" y1="291.7" x2="605.5" y2="457.8" stroke="#f8f8f8" stroke-width="1"/><line x1="617.5" y1="291.7" x2="617.5" y2="457.8" stroke="#ededed" stroke-width="1"/><line x1="629.5" y1="291.7" x2="629.5" y2="457.8" stroke="#f8f8f8" stroke-width="1"/><line x1="640.5" y1="291.7" x2="640.5" y2="457.8" stroke="#f8f8f8" stroke-width="1"/><line x1="652.5" y1="291.7" x2="652.5" y2="457.8" stroke="#f8f8f8" stroke-width="1"/><line x1="664.5" y1="291.7" x2="664.5" y2="457.8" stroke="#f8f8f8" stroke-width="1"/><line x1="676.5" y1="291.7" x2="676.5" y2="457.8" stroke="#ededed" stroke-width="1"/><line x1="687.5" y1="291.7" x2="687.5" y2="457.8" stroke="#f8f8f8" stroke-width="1"/><line x1="699.5" y1="291.7" x2="699.5" y2="457.8" stroke="#f8f8f8" stroke-width="1"/><line x1="711.5" y1="291.7" x2="711.5" y2="457.8" stroke="#f8f8f8" stroke-width="1"/><line x1="723.5" y1="291.7" x2="723.5" y2="457.8" stroke="#f8f8f8" stroke-width="1"/><line x1="735.5" y1="291.7" x2="735.5" y2="457.8" stroke="#ededed" stroke-width="1"/><line x1="440.7" y1="458.5" x2="734.5" y2="458.5" stroke="#ededed" stroke-width="1"/><line x1="440.7" y1="454.5" x2="734.5" y2="454.5" stroke="#f8f8f8" stroke-width="1"/><line x1="440.7" y1="449.5" x2="734.5" y2="449.5" stroke="#f8f8f8" stroke-width="1"/><line x1="440.7" y1="445.5" x2="734.5" y2="445.5" stroke="#f8f8f8" stroke-width="1"/><line x1="440.7" y1="441.5" x2="734.5" y2="441.5" stroke="#f8f8f8" stroke-width="1"/><line x1="440.7" y1="437.5" x2="734.5" y2="437.5" stroke="#ededed" stroke-width="1"/><line x1="440.7" y1="433.5" x2="734.5" y2="433.5" stroke="#f8f8f8" stroke-width="1"/><line x1="440.7" y1="429.5" x2="734.5" y2="429.5" stroke="#f8f8f8" stroke-width="1"/><line x1="440.7" y1="425.5" x2="734.5" y2="425.5" stroke="#f8f8f8" stroke-width="1"/><line x1="440.7" y1="420.5" x2="734.5" y2="420.5" stroke="#f8f8f8" stroke-width="1"/><line x1="440.7" y1="416.5" x2="734.5" y2="416.5" stroke="#ededed" stroke-width="1"/><line x1="440.7" y1="412.5" x2="734.5" y2="412.5" stroke="#f8f8f8" stroke-width="1"/><line x1="440.7" y1="408.5" x2="734.5" y2="408.5" stroke="#f8f8f8" stroke-width="1"/><line x1="440.7" y1="404.5" x2="734.5" y2="404.5" stroke="#f8f8f8" stroke-width="1"/><line x1="440.7" y1="400.5" x2="734.5" y2="400.5" stroke="#f8f8f8" stroke-width="1"/><line x1="440.7" y1="396.5" x2="734.5" y2="396.5" stroke="#ededed" stroke-width="1"/><line x1="440.7" y1="391.5" x2="734.5" y2="391.5" stroke="#f8f8f8" stroke-width="1"/><line x1="440.7" y1="387.5" x2="734.5" y2="387.5" stroke="#f8f8f8" stroke-width="1"/><line x1="440.7" y1="383.5" x2="734.5" y2="383.5" stroke="#f8f8f8" stroke-width="1"/><line x1="440.7" y1="379.5" x2="734.5" y2="379.5" stroke="#f8f8f8" stroke-width="1"/><line x1="440.7" y1="375.5" x2="734.5" y2="375.5" stroke="#ededed" stroke-width="1"/><line x1="440.7" y1="371.5" x2="734.5" y2="371.5" stroke="#f8f8f8" stroke-width="1"/><line x1="440.7" y1="366.5" x2="734.5" y2="366.5" stroke="#f8f8f8" stroke-width="1"/><line x1="440.7" y1="362.5" x2="734.5" y2="362.5" stroke="#f8f8f8" stroke-width="1"/><line x1="440.7" y1="358.5" x2="734.5" y2="358.5" stroke="#f8f8f8" stroke-width="1"/><line x1="440.7" y1="354.5" x2="734.5" y2="354.5" stroke="#ededed" stroke-width="1"/><line x1="440.7" y1="350.5" x2="734.5" y2="350.5" stroke="#f8f8f8" stroke-width="1"/><line x1="440.7" y1="346.5" x2="734.5" y2="346.5" stroke="#f8f8f8" stroke-width="1"/><line x1="440.7" y1="342.5" x2="734.5" y2="342.5" stroke="#f8f8f8" stroke-width="1"/><line x1="440.7" y1="337.5" x2="734.5" y2="337.5" stroke="#f8f8f8" stroke-width="1"/><line x1="440.7" y1="333.5" x2="734.5" y2="333.5" stroke="#ededed" stroke-width="1"/><line x1="440.7" y1="329.5" x2="734.5" y2="329.5" stroke="#f8f8f8" stroke-width="1"/><line x1="440.7" y1="325.5" x2="734.5" y2="325.5" stroke="#f8f8f8" stroke-width="1"/><line x1="440.7" y1="321.5" x2="734.5" y2="321.5" stroke="#f8f8f8" stroke-width="1"/><line x1="440.7" y1="317.5" x2="734.5" y2="317.5" stroke="#f8f8f8" stroke-width="1"/><line x1="440.7" y1="312.5" x2="734.5" y2="312.5" stroke="#ededed" stroke-width="1"/><line x1="440.7" y1="308.5" x2="734.5" y2="308.5" stroke="#f8f8f8" stroke-width="1"/><line x1="440.7" y1="304.5" x2="734.5" y2="304.5" stroke="#f8f8f8" stroke-width="1"/><line x1="440.7" y1="300.5" x2="734.5" y2="300.5" stroke="#f8f8f8" stroke-width="1"/><line x1="440.7" y1="296.5" x2="734.5" y2="296.5" stroke="#f8f8f8" stroke-width="1"/><line x1="440.7" y1="292.5" x2="734.5" y2="292.5" stroke="#ededed" stroke-width="1"/></g>
<rect x="632.7" y="292.4" width="101.3" height="53.3" fill="#d9d9d9"/>
<g clip-path="url(#clipd)">
<line x1="440.7" y1="339.0" x2="734.5" y2="222.8" stroke="#777" stroke-width="0.8" stroke-dasharray="1.6,1.0"/>
<line x1="440.7" y1="427.1" x2="734.5" y2="384.2" stroke="#777" stroke-width="0.8" stroke-dasharray="1.6,1.0"/>
<path d="M499.5,290.0 C501.6,291.4 508.7,295.9 512.0,298.2 C515.3,300.5 516.9,301.6 519.3,304.0 C521.7,306.4 524.3,310.2 526.5,312.7 C528.7,315.2 529.9,317.1 532.3,319.2 C534.7,321.3 537.6,322.7 540.9,325.4 C544.1,328.1 547.6,332.1 551.8,335.4 C556.0,338.7 561.5,342.1 566.3,345.4 C571.1,348.7 576.0,352.5 580.8,355.4 C585.6,358.3 590.4,360.7 595.3,362.6 C600.1,364.5 605.4,365.4 609.9,366.6 C614.4,367.9 617.4,368.4 622.1,370.1 C626.8,371.9 632.8,374.6 638.2,377.1 C643.6,379.6 648.9,383.2 654.3,385.1 C659.6,387.0 665.6,387.1 670.3,388.6 C675.0,390.1 678.4,392.1 682.4,394.2 C686.4,396.3 690.4,399.5 694.4,401.2 C698.4,402.9 702.5,403.5 706.5,404.2 C710.5,404.9 714.0,405.6 718.5,405.2 C723.0,404.8 731.1,402.4 733.6,401.8" fill="none" stroke="#000000" stroke-width="4.20" stroke-linecap="round" stroke-linejoin="round"/>
<path d="M454.6,290.0 C455.5,291.6 458.1,296.7 459.8,299.6 C461.5,302.5 463.2,306.0 464.9,307.6 C466.6,309.2 468.1,309.0 469.9,309.0 C471.7,309.0 474.0,307.2 475.7,307.6 C477.4,308.0 478.7,309.3 480.1,311.2 C481.6,313.1 482.7,316.7 484.4,319.2 C486.1,321.7 488.1,325.0 490.3,326.0 C492.5,327.0 494.9,326.0 497.5,325.4 C500.1,324.8 503.3,322.8 506.2,322.5 C509.1,322.2 512.2,322.5 514.9,323.6 C517.6,324.8 519.7,327.4 522.2,329.4 C524.7,331.4 526.9,333.3 530.0,335.4 C533.1,337.5 536.7,339.5 540.9,341.8 C545.1,344.1 550.6,346.4 555.4,349.0 C560.2,351.6 565.1,354.3 569.9,357.2 C574.7,360.1 579.5,364.0 584.4,366.3 C589.2,368.6 594.1,369.5 599.0,370.8 C603.9,372.1 609.6,373.2 613.5,374.4 C617.4,375.6 618.0,376.5 622.1,378.1 C626.2,379.7 632.8,382.1 638.2,384.1 C643.6,386.1 648.9,388.6 654.3,390.2 C659.6,391.8 665.6,392.3 670.3,393.8 C675.0,395.3 678.4,397.5 682.4,399.2 C686.4,400.9 690.0,403.0 694.4,403.8 C698.8,404.6 704.1,404.3 708.5,404.2 C712.9,404.1 716.3,403.7 720.5,403.2 C724.7,402.7 731.4,401.5 733.6,401.2" fill="none" stroke="#6cf05a" stroke-width="3.90" stroke-linecap="round" stroke-linejoin="round"/>
<path d="M441.2,314.1 C442.1,315.4 444.3,319.3 446.7,322.1 C449.1,324.9 452.5,328.3 455.4,330.8 C458.3,333.3 461.0,335.2 464.1,337.3 C467.2,339.4 470.9,341.4 474.3,343.2 C477.7,345.0 481.8,346.7 484.4,348.2 C487.0,349.7 488.1,350.8 490.0,352.1 C491.9,353.4 494.0,354.7 496.0,356.1 C498.0,357.5 500.1,359.2 502.1,360.6 C504.1,362.0 505.8,363.5 508.1,364.7 C510.5,365.9 513.8,366.7 516.2,367.7 C518.6,368.7 520.3,369.6 522.3,370.7 C524.3,371.8 526.3,373.0 528.3,374.2 C530.3,375.4 532.0,376.8 534.4,377.8 C536.8,378.8 539.8,379.5 542.4,380.3 C545.0,381.1 547.2,381.8 550.0,382.8 C552.8,383.8 555.7,385.2 559.0,386.2 C562.3,387.2 566.6,388.3 569.9,389.0 C573.2,389.7 576.0,389.3 579.0,390.2 C582.0,391.1 585.1,392.9 588.1,394.4 C591.1,395.9 594.8,397.9 597.1,399.3 C599.4,400.7 598.5,401.5 602.0,402.6 C605.5,403.8 612.7,404.9 618.1,406.2 C623.5,407.5 628.9,409.4 634.2,410.2 C639.6,411.0 644.2,411.3 650.2,411.2 C656.2,411.1 663.6,410.2 670.3,409.8 C677.0,409.4 683.7,409.1 690.4,408.8 C697.1,408.5 703.3,408.3 710.5,408.2 C717.7,408.1 729.8,408.2 733.6,408.2" fill="none" stroke="#1414e6" stroke-width="3.90" stroke-linecap="round" stroke-linejoin="round"/>
</g>
<line x1="638.0" y1="298.5" x2="647.6" y2="298.5" stroke="#000000" stroke-width="4" stroke-linecap="round"/>
<text transform="translate(657.30,301.22) scale(1.000,1)" font-size="7.55" fill="#141414" stroke="#141414" stroke-width="0.12">PASI equipment</text>
<line x1="638.0" y1="309.5" x2="647.6" y2="309.5" stroke="#3ee01e" stroke-width="4" stroke-linecap="round"/>
<text transform="translate(657.30,312.22) scale(1.000,1)" font-size="7.55" fill="#141414" stroke="#141414" stroke-width="0.12">Developed system</text>
<line x1="638.0" y1="320.0" x2="647.6" y2="320.0" stroke="#0a0ae6" stroke-width="4" stroke-linecap="round"/>
<text transform="translate(657.30,322.72) scale(1.000,1)" font-size="7.55" fill="#141414" stroke="#141414" stroke-width="0.12">Geophonino-W (2019)</text>
<line x1="636.0" y1="329.8" x2="649.6" y2="329.8" stroke="#8a8a8a" stroke-width="0.8" stroke-dasharray="1.3,0.9"/>
<text transform="translate(657.30,332.52) scale(1.000,1)" font-size="7.55" fill="#141414" stroke="#141414" stroke-width="0.12">Kmax/2 (20 m)</text>
<line x1="636.0" y1="341.0" x2="649.6" y2="341.0" stroke="#8a8a8a" stroke-width="0.8" stroke-dasharray="1.3,0.9"/>
<text transform="translate(657.30,343.72) scale(1.000,1)" font-size="7.55" fill="#141414" stroke="#141414" stroke-width="0.12">Kmin/2 (20 m)</text>
<rect x="440.7" y="291.7" width="293.8" height="166.1" fill="none" stroke="#000" stroke-width="1.8"/>
<text transform="translate(435.10,460.16) scale(0.910,1)" font-size="9.90" fill="#262626" text-anchor="end" stroke="#262626" stroke-width="0.20">50</text>
<text transform="translate(435.10,439.40) scale(0.910,1)" font-size="9.90" fill="#262626" text-anchor="end" stroke="#262626" stroke-width="0.20">100</text>
<text transform="translate(435.10,418.64) scale(0.910,1)" font-size="9.90" fill="#262626" text-anchor="end" stroke="#262626" stroke-width="0.20">150</text>
<text transform="translate(435.10,397.88) scale(0.910,1)" font-size="9.90" fill="#262626" text-anchor="end" stroke="#262626" stroke-width="0.20">200</text>
<text transform="translate(435.10,377.11) scale(0.910,1)" font-size="9.90" fill="#262626" text-anchor="end" stroke="#262626" stroke-width="0.20">250</text>
<text transform="translate(435.10,356.35) scale(0.910,1)" font-size="9.90" fill="#262626" text-anchor="end" stroke="#262626" stroke-width="0.20">300</text>
<text transform="translate(435.10,335.59) scale(0.910,1)" font-size="9.90" fill="#262626" text-anchor="end" stroke="#262626" stroke-width="0.20">350</text>
<text transform="translate(435.10,314.83) scale(0.910,1)" font-size="9.90" fill="#262626" text-anchor="end" stroke="#262626" stroke-width="0.20">400</text>
<text transform="translate(435.10,294.06) scale(0.910,1)" font-size="9.90" fill="#262626" text-anchor="end" stroke="#262626" stroke-width="0.20">450</text>
<text transform="translate(440.10,469.86) scale(0.910,1)" font-size="9.90" fill="#262626" text-anchor="middle" stroke="#262626" stroke-width="0.20">3.00</text>
<text transform="translate(499.20,469.86) scale(0.910,1)" font-size="9.90" fill="#262626" text-anchor="middle" stroke="#262626" stroke-width="0.20">3.50</text>
<text transform="translate(557.90,469.86) scale(0.910,1)" font-size="9.90" fill="#262626" text-anchor="middle" stroke="#262626" stroke-width="0.20">4.00</text>
<text transform="translate(616.60,469.86) scale(0.910,1)" font-size="9.90" fill="#262626" text-anchor="middle" stroke="#262626" stroke-width="0.20">4.50</text>
<text transform="translate(676.00,469.86) scale(0.910,1)" font-size="9.90" fill="#262626" text-anchor="middle" stroke="#262626" stroke-width="0.20">5.00</text>
<text transform="translate(734.50,469.86) scale(0.910,1)" font-size="9.90" fill="#262626" text-anchor="middle" stroke="#262626" stroke-width="0.20">5.50</text>
<text transform="translate(379.60,268.30) scale(1.000,1)" font-size="14.00" fill="#111" stroke="#111" stroke-width="0.30">(d)</text>
<text transform="translate(584.90,278.80) scale(1.000,1)" font-size="11.30" fill="#222" text-anchor="middle" stroke="#222" stroke-width="0.18">Rojales</text>
<text transform="translate(587.70,488.30) scale(1.000,1)" font-size="11.30" fill="#222" text-anchor="middle" stroke="#222" stroke-width="0.18">Frequency (Hz)</text>
<text transform="translate(406.00,370.70) rotate(-90) scale(1.000,1)" font-size="11.80" fill="#222" text-anchor="middle" stroke="#222" stroke-width="0.18">Velocity (m/s)</text>
<line x1="320" y1="292.9" x2="333" y2="292.9" stroke="#555" stroke-width="0.8" opacity="0.6"/>
</svg></body></html>
